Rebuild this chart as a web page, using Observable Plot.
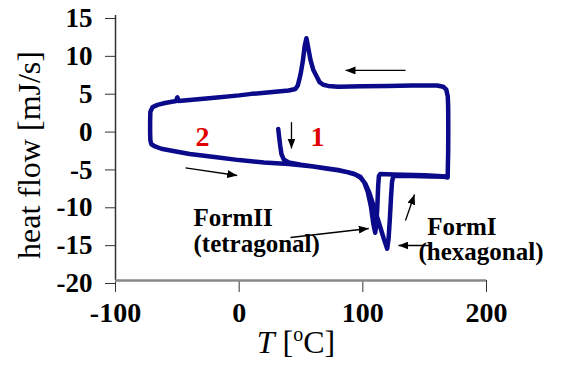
<!DOCTYPE html>
<html><head><meta charset="utf-8">
<script src="https://cdn.jsdelivr.net/npm/d3@7"></script>
<script src="https://cdn.jsdelivr.net/npm/@observablehq/plot@0.6"></script>
<style>body{margin:0;background:#fff;}</style>
</head><body><div id="chart"></div>
<script>
// DSC trace: heating 1 -> cooling -> heating 2 (T in degC, heat flow in mJ/s)
const temperature = [
  31.6, 32.3, 33.2, 34.2, 36.0, 40, 50, 60, 70, 80, 88, 94, 98, 102, 105, 108, 111, 114, 117, 119.7,
  120.8, 121.8, 122.8, 123.6, 124.5, 127, 140, 155, 166, 168.6,
  169.0, 169.1, 169.0, 168.7, 167.5, 165, 160, 140, 120, 100, 80, 72, 68, 65, 63, 60, 57.7, 56, 54.4,
  53, 51.5, 49.6, 47.5, 45.5, 40, 25, 10, 0, -20, -40, -49, -50, -51, -60, -66, -70, -71.8,
  -72, -72, -71.8, -71, -68, -63, -50, -40, -20, 0, 20, 40, 60, 80, 92, 98,
  101, 104, 106.5, 108.5, 110, 111, 111.8, 112.4, 113, 114, 125, 150, 168
];
const heatFlow = [
  0.0, -1.0, -2.2, -3.3, -4.0, -4.4, -4.7, -4.95, -5.2, -5.45, -5.7, -6.0, -6.4, -7.2, -8.3, -9.8, -11.3, -12.9, -14.5, -15.8,
  -14.5, -12.0, -9.0, -7.0, -6.3, -6.15, -6.2, -6.25, -6.3, -6.4,
  -3, 0, 3, 4.3, 5.2, 5.6, 5.75, 5.75, 5.7, 5.65, 5.6, 5.7, 5.85, 6.2, 6.85, 7.8, 9.1, 10.6, 12.0,
  11, 9.0, 7.2, 5.8, 5.3, 5.1, 4.85, 4.65, 4.45, 4.15, 3.85, 3.7, 4.2, 3.7, 3.45, 3.2, 2.9, 2.3,
  1, -0.5, -1.5, -2.0, -2.3, -2.6, -3.0, -3.3, -3.7, -4.1, -4.4, -4.6, -4.95, -5.4, -5.85, -6.3,
  -7.0, -8.3, -10.2, -12.5, -13.7, -12.5, -10, -7.5, -6.2, -5.95, -6.0, -6.1, -6.25
];
const xTicks = [-100, 0, 100, 200];
const yTicks = [-20, -15, -10, -5, 0, 5, 10, 15];

// red run numbers
const runLabels = ["2", "1"];
const runLabelT = [-29.6, 63.3];
const runLabelHF = [-1.07, -1.07];

// form annotations
const formTexts = ["FormII", "(tetragonal)", "FormI", "(hexagonal)"];
const formT = [-36.9, -36.9, 152.0, 145.0];
const formHF = [-11.8, -15.2, -12.9, -16.3];

// arrows (start -> end)
const arrowT1 = [134.5, 42.3, -43.4, 41.5, 134.5, 154.7];
const arrowHF1 = [7.74, 0.91, -5.12, -14.32, -12.08, -15.38];
const arrowT2 = [86.0, 42.3, -1.6, 104.8, 141.8, 128.8];
const arrowHF2 = [7.74, -2.57, -6.13, -13.13, -8.64, -15.38];

const curve = temperature.map((t, i) => ({T: t, hf: heatFlow[i]}));
const runs = runLabels.map((s, i) => ({s, T: runLabelT[i], hf: runLabelHF[i]}));
const forms = formTexts.map((s, i) => ({s, T: formT[i], hf: formHF[i]}));
const arrows = arrowT1.map((t, i) => ({x1: t, y1: arrowHF1[i], x2: arrowT2[i], y2: arrowHF2[i]}));

const serif = "'Liberation Serif', 'Times New Roman', serif";
const chart = Plot.plot({
  width: 565, height: 375,
  marginLeft: 115, marginRight: 79, marginTop: 15, marginBottom: 95,
  x: {domain: [-100, 200], label: null},
  y: {domain: [-20, 15], label: null},
  style: {fontFamily: serif, fontSize: "26px", fontWeight: "bold", background: "white", color: "black"},
  marks: [
    Plot.axisY(yTicks, {tickSize: 10, tickPadding: 13, tickFormat: d => String(d), label: null, dy: 3, stroke: "#333", fill: "black", fontSize: 27, fontWeight: "bold"}),
    Plot.axisX(xTicks, {tickSize: 12, tickPadding: 10, tickFormat: d => String(d), label: null, stroke: "#333", fill: "black", fontSize: 28, fontWeight: "bold"}),
    Plot.ruleX([-100], {stroke: "#333", strokeWidth: 1.5}),
    Plot.ruleY([-20], {stroke: "#888", strokeWidth: 2.5}),
    Plot.line(curve, {x: "T", y: "hf", stroke: "#0a0a8a", strokeWidth: 4.5, strokeLinejoin: "round", strokeLinecap: "round"}),
    Plot.link(arrows, {x1: "x1", y1: "y1", x2: "x2", y2: "y2", stroke: "black", strokeWidth: 1.3}),
    Plot.text(runs, {x: "T", y: "hf", text: "s", fill: "#e00000", fontSize: 28, fontWeight: "bold"}),
    Plot.text(forms, {x: "T", y: "hf", text: "s", textAnchor: "start", fill: "black", fontSize: 25, fontWeight: "bold"}),
    Plot.text(["heat flow [mJ/s]"], {frameAnchor: "left", fontSize: 32, fontWeight: "normal", fill: "black"}),
    Plot.text(["T [oC]"], {frameAnchor: "bottom", dx: -5, dy: 72, fontSize: 32, fontWeight: "normal", fill: "black"})
  ]
});
document.getElementById("chart").append(chart);

const svg = d3.select(chart);

// force the serif face on every text (axis labels included)
svg.selectAll("g, text").style("font-family", serif);

// filled arrowheads
const defs = svg.insert("defs", ":first-child");
defs.append("marker").attr("id", "ah").attr("viewBox", "0 0 10 8").attr("refX", 10).attr("refY", 4)
  .attr("markerWidth", 10).attr("markerHeight", 8).attr("markerUnits", "userSpaceOnUse").attr("orient", "auto")
  .append("path").attr("d", "M0,0L10,4L0,8Z").attr("fill", "black");
svg.selectAll("g[aria-label='link'] path").attr("marker-end", "url(#ah)");

// rotated y label, placed left of the tick labels
svg.selectAll("text").filter(function() { return this.textContent === "heat flow [mJ/s]"; })
  .each(function() {
    const g = this.parentNode;
    g.removeAttribute("transform");
    d3.select(this)
      .attr("transform", "translate(30,155) rotate(-90)")
      .attr("text-anchor", "middle")
      .attr("dy", "0.32em")
      .attr("x", null).attr("y", null);
  });

// italic T and superscript o in x label
svg.selectAll("text").filter(function() { return this.textContent === "T [oC]"; })
  .each(function() {
    const t = d3.select(this);
    t.text(null);
    t.append("tspan").attr("font-style", "italic").text("T");
    t.append("tspan").text(" [");
    t.append("tspan").attr("font-size", "20px").attr("dy", "-12").text("o");
    t.append("tspan").attr("dy", "12").text("C]");
  });
</script>
</body></html>
